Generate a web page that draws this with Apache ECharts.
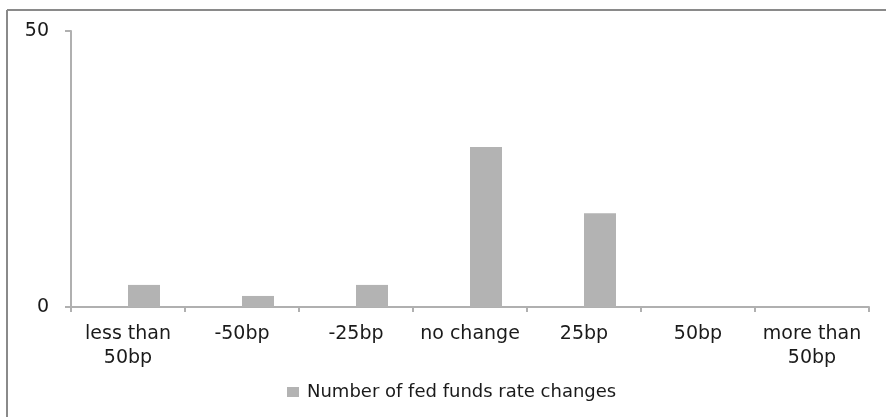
<!DOCTYPE html>
<html>
<head>
<meta charset="utf-8">
<script src="https://cdn.jsdelivr.net/npm/echarts@6/dist/echarts.min.js"></script>
<style>html,body{margin:0;padding:0;background:#fff;}#c{width:886px;height:417px;}</style>
</head>
<body>
<div id="c"></div>
<script>
const categories = ['less than\n50bp', '-50bp', '-25bp', 'no change', '25bp', '50bp', 'more than\n50bp'];
const rateChanges = [4, 2, 4, 29, 17, 0, 0];
const placeholderValues = ['-', '-', '-', '-', '-', '-', '-'];
const yTicks = { min: 0, max: 50, interval: 50 };
const seriesName = 'Number of fed funds rate changes';

const chart = echarts.init(document.getElementById('c'));
const font = 'DejaVu Sans';
chart.setOption({
  animation: false,
  backgroundColor: '#fff',
  graphic: [
    { type: 'line', shape: { x1: 7, y1: 10, x2: 886, y2: 10 }, style: { stroke: '#8a8a8a', lineWidth: 2 } },
    { type: 'line', shape: { x1: 7, y1: 10, x2: 7, y2: 417 }, style: { stroke: '#8a8a8a', lineWidth: 2 } }
  ],
  grid: { left: 71, right: 17, top: 31, bottom: 110, containLabel: false },
  legend: {
    data: [seriesName],
    bottom: 11,
    left: 282,
    itemWidth: 12,
    itemHeight: 10,
    itemGap: 8,
    icon: 'rect',
    textStyle: { fontFamily: font, fontSize: 18, color: '#1a1a1a', padding: [0, 0, 0, 3] }
  },
  xAxis: {
    type: 'category',
    data: categories,
    boundaryGap: true,
    axisLine: { lineStyle: { color: '#b0b0b0', width: 2 } },
    axisTick: { show: true, length: 5, lineStyle: { color: '#b0b0b0', width: 2 } },
    axisLabel: { fontFamily: font, fontSize: 19, color: '#1a1a1a', margin: 15, lineHeight: 24, interval: 0 }
  },
  yAxis: {
    type: 'value',
    min: yTicks.min,
    max: yTicks.max,
    interval: yTicks.interval,
    splitLine: { show: false },
    axisLine: { show: true, lineStyle: { color: '#b0b0b0', width: 2 } },
    axisTick: { show: true, inside: false, length: 6, lineStyle: { color: '#b0b0b0', width: 2 } },
    axisLabel: { fontFamily: font, fontSize: 19, color: '#1a1a1a', margin: 22 }
  },
  series: [
    { name: 'placeholder', type: 'bar', data: placeholderValues, barWidth: 32, barGap: '0%', silent: true },
    { name: seriesName, type: 'bar', data: rateChanges, barWidth: 32, barGap: '0%',
      itemStyle: { color: '#b3b3b3' } }
  ]
});
</script>
</body>
</html>
